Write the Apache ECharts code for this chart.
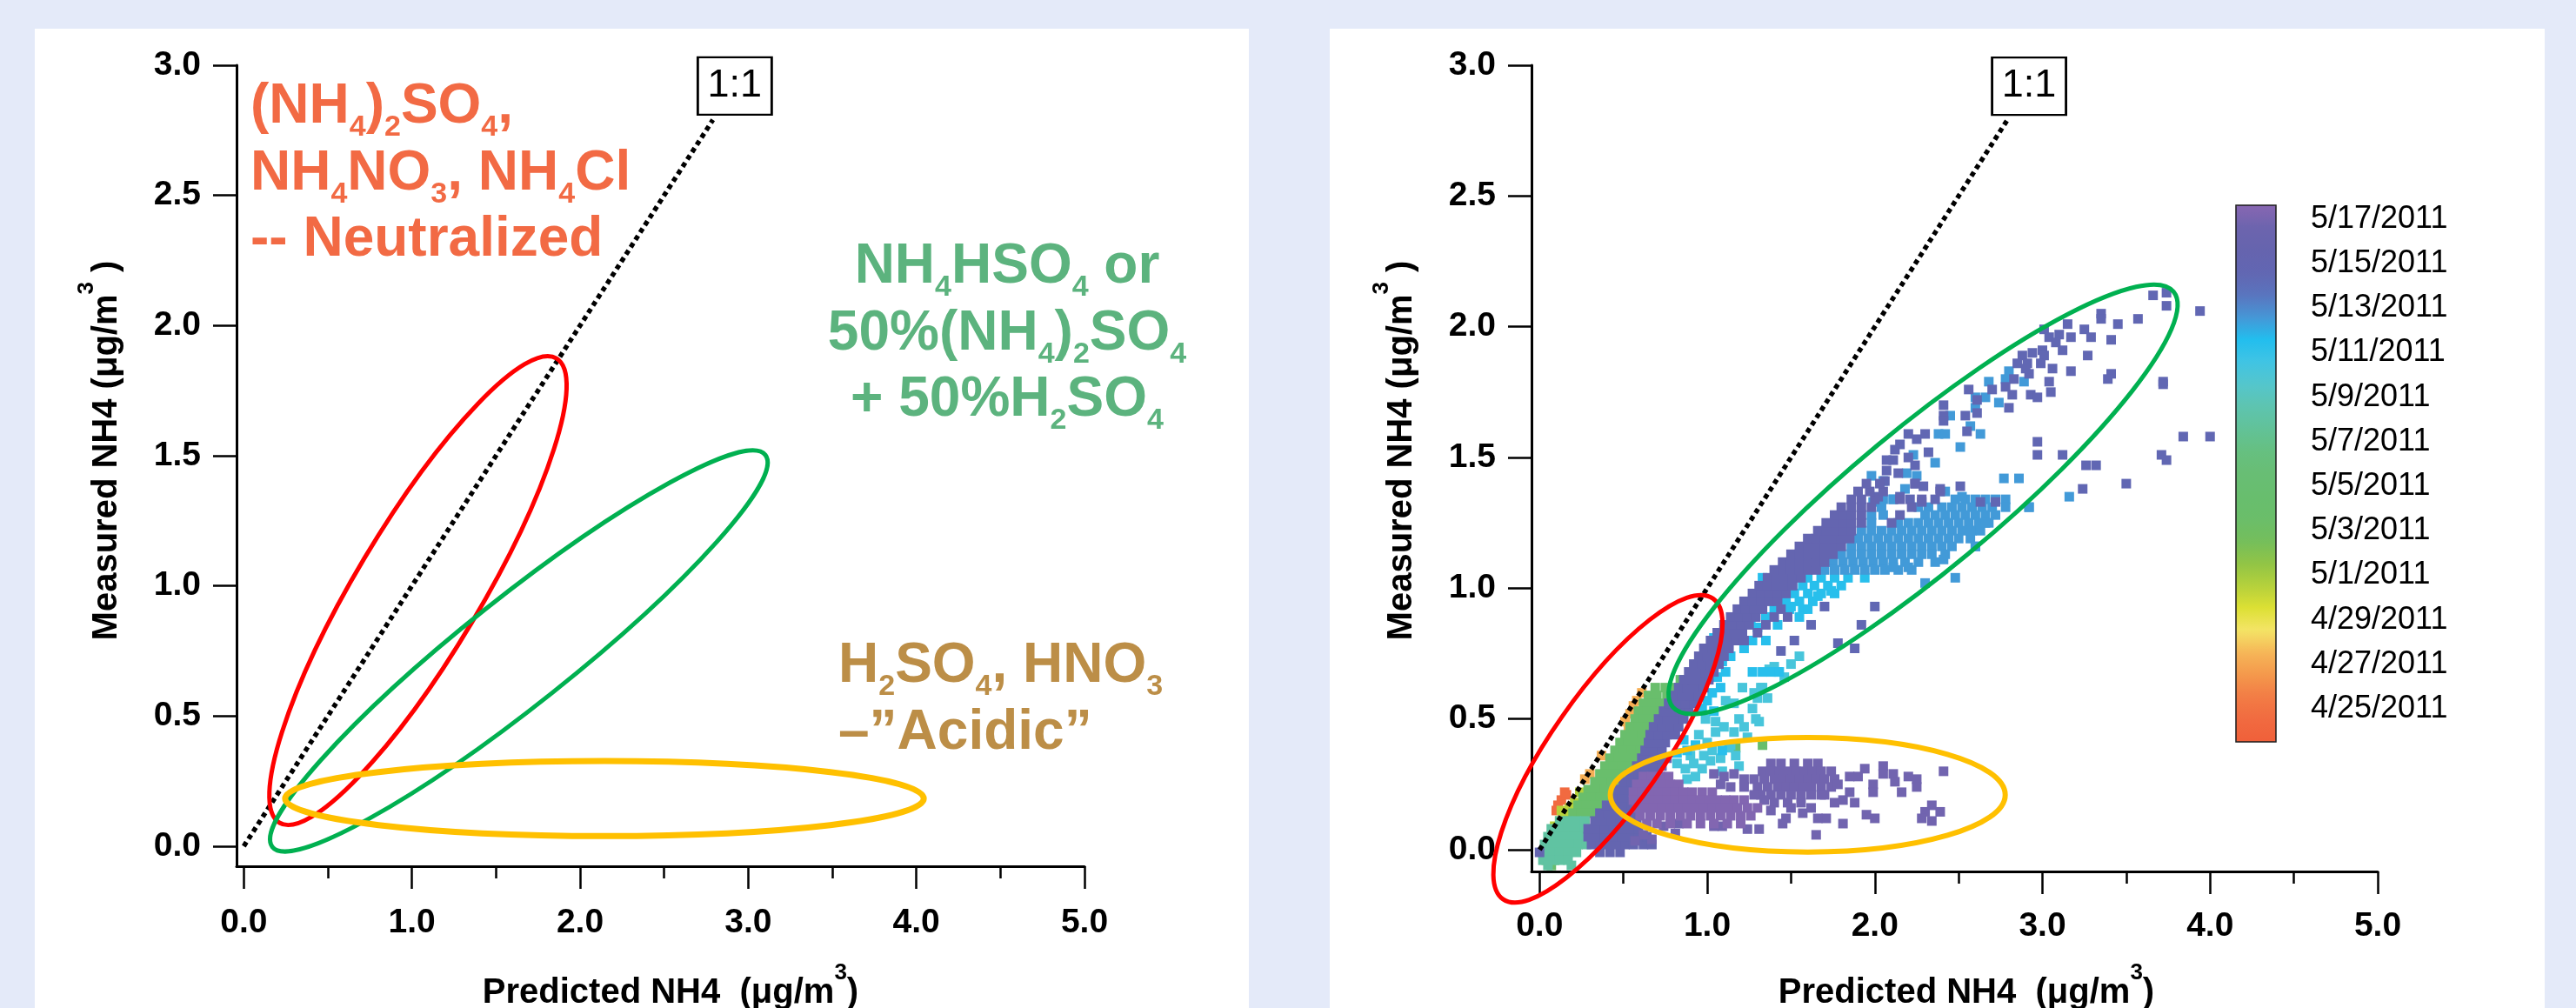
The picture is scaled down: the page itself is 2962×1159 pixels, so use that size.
<!DOCTYPE html>
<html>
<head>
<meta charset="utf-8">
<script src="https://cdn.jsdelivr.net/npm/echarts@6/dist/echarts.min.js"></script>
<style>
html,body{margin:0;padding:0;background:#E4EAF9;}
#c{width:2962px;height:1159px;}
</style>
</head>
<body>
<div id="c"></div>
<script>
const FONT = '"Liberation Sans", Arial, Helvetica, sans-serif';

// ---------- axis ticks / labels ----------
const yTicks = [0, 0.5, 1.0, 1.5, 2.0, 2.5, 3.0];
const xMajorTicks = [0, 1, 2, 3, 4, 5];
const xMinorTicks = [0.5, 1.5, 2.5, 3.5, 4.5];
// colour scale: days after 4/23/2011
const dateTickDays = [2, 4, 6, 8, 10, 12, 14, 16, 18, 20, 22, 24];
const dateTickLabels = ['4/25/2011','4/27/2011','4/29/2011','5/1/2011','5/3/2011','5/5/2011',
  '5/7/2011','5/9/2011','5/11/2011','5/13/2011','5/15/2011','5/17/2011'];
const colorbarRange = [0.52, 24.62];
const colorbarColors = ['#F0603A','#F16A40','#F27C45','#F4984C','#F6B658','#F4E466','#DCE034',
  '#B4D03C','#90C446','#74BE5C','#6ABE6A','#68BE6E','#68BE74','#66C080','#62C298','#5EC4B0',
  '#54C6CC','#40C4E4','#22BEEE','#4696D6','#5A74BE','#6266B2','#6664AE','#6C64AE','#8866B2'];

// ---------- 1:1 line ----------
const oneToOne = [[0, 0], [2.79, 2.79]];
const oneToOneBox = [2.92, 2.92];

// ---------- ellipses: [centerX, centerY, majorEndX, majorEndY, minorEndX, minorEndY] ----------
const leftEllipses = [
  [1.036, 0.982, 1.860, 1.874, 1.355, 0.858],   // neutralized (red)
  [1.636, 0.750, 3.102, 1.503, 1.834, 0.589],   // NH4HSO4 (green)
  [2.145, 0.183, 4.044, 0.183, 2.145, 0.327]    // acidic (yellow)
];
const rightEllipses = [
  [0.408, 0.386, 1.034, 0.961, 0.682, 0.263],
  [2.288, 1.340, 3.782, 2.134, 2.558, 1.132],
  [1.600, 0.210, 2.778, 0.210, 1.600, 0.429]
];
const ellipseColors = ['#FF0000', '#00B050', '#FFC000'];

// ---------- measurements (right panel), grouped by collection date ----------
const groupDays = {redOrange:1.5, orange:4.3, yellowGreen:7.5, green:11, teal:15, lightCyan:17.2,
  cyan:18.4, blue:19.5, purpleUpper:21.5, purple:22, acidicLobe:23.8, acidicCore:24.4};

const redOrangePts = [[0.13,0.19],[0.16,0.21],[0.11,0.17],[0.10,0.15],[0.15,0.22]];
const orangePts = [[0.56,0.55],[0.54,0.52],[0.51,0.49],[0.58,0.57],[0.53,0.47],[0.37,0.36],[0.27,0.27],[0.30,0.29],[0.61,0.60]];
const yellowGreenPts = [[0.12,0.11],[0.15,0.13],[0.18,0.16],[0.21,0.18],[0.09,0.09],[0.24,0.22],[0.14,0.09],[0.19,0.12],[0.13,0.15]];
// rows: [y, x1, x2, ...]
const greenRows = [
  [0.62,0.69,0.75,0.81],[0.59,0.65,0.70,0.76],[0.56,0.62,0.67,0.72,0.77],[0.53,0.59,0.64,0.69,0.74],
  [0.50,0.57,0.62,0.67,0.72],[0.47,0.54,0.59,0.64,0.69],[0.44,0.51,0.56,0.61,0.66],[0.41,0.48,0.53,0.58,0.63],
  [0.38,0.45,0.50,0.55,0.60],[0.35,0.42,0.47,0.52,0.57],[0.32,0.39,0.44,0.49,0.54],[0.29,0.36,0.41,0.46,0.51],
  [0.26,0.33,0.38,0.43,0.48],[0.23,0.29,0.34,0.39,0.44],[0.20,0.26,0.31,0.36,0.41],[0.17,0.23,0.28,0.33,0.38],
  [0.14,0.20,0.25,0.30,0.35],[0.11,0.17,0.22,0.27],[0.08,0.13,0.18],[0.05,0.09],[0.02,0.06],[-0.01,0.04],
  [-0.04,0.04,0.09],[-0.06,0.07]
];
const greenPts = [[1.33,0.40],[1.17,0.39],[0.84,0.65]];
const tealRows = [
  [0.11,0.12,0.17,0.22,0.27],[0.08,0.07,0.12,0.17,0.22,0.27,0.31],[0.05,0.05,0.10,0.15,0.20,0.25,0.30],
  [0.02,0.03,0.08,0.13,0.18,0.23,0.28],[-0.01,0.02,0.07,0.12,0.17,0.22],[-0.04,0.02,0.07,0.12,0.17],[-0.06,0.05,0.19]
];
const lightCyanPts = [[1.27,0.54],[1.30,0.58],[1.33,0.62],[1.28,0.60],[1.31,0.49],[1.22,0.47],[1.19,0.50],[1.16,0.45],
  [1.05,0.45],[1.05,0.49],[1.10,0.47],[1.11,0.57],[1.16,0.56],[0.99,0.50],[1.50,0.71],[1.40,0.70],[1.37,0.69],[1.42,0.68],
  [0.82,0.33],[0.87,0.31],[0.92,0.33],[0.97,0.31],[1.02,0.34],[0.88,0.27],[0.93,0.28],[0.98,0.36],[1.03,0.38],[0.90,0.36],
  [0.95,0.44],[1.08,0.35],[1.13,0.39],[1.00,0.41],[1.14,0.40],[1.09,0.30],[1.19,0.32],[1.17,0.36],[1.32,0.62],[1.29,0.50],
  [1.24,0.43],[1.36,0.58],[1.46,0.66],[1.55,0.74],[1.21,0.62]];
const cyanPts = [[1.03,0.60],[1.08,0.62],[1.06,0.66],[1.11,0.68],[1.09,0.72],[1.14,0.74],[1.12,0.78],[1.17,0.80],[1.00,0.57],
  [0.97,0.54],[1.04,0.53],[1.27,0.80],[1.27,0.68],[1.33,0.68],[1.38,0.68],[1.43,0.68],[1.04,0.81],[1.33,1.04],[0.82,0.37],
  [0.88,0.38],[0.93,0.40],[1.09,0.38],[0.86,0.42],[1.50,0.93],[1.26,0.88],[1.30,0.85],[1.20,0.84],[1.22,0.77],[1.35,0.80],
  [1.42,0.86],[1.60,0.92],[1.66,0.97],[1.74,0.99]];
const cyanRows = [
  [1.04,1.60,1.68,1.76,1.84,1.94],[1.01,1.57,1.64,1.72,1.80],[0.98,1.52,1.60,1.68,1.76],
  [0.95,1.47,1.55,1.63],[0.92,1.40,1.49,1.57],[0.89,1.35,1.55]
];
const blueRows = [
  [1.34,2.05,2.11,2.48,2.54,2.60,2.66,2.72,2.78],
  [1.31,2.04,2.26,2.32,2.40,2.46,2.52,2.58,2.64,2.70,2.92],
  [1.28,1.98,2.05,2.30,2.36,2.42,2.48,2.54,2.60,2.66,2.72],
  [1.25,1.98,2.14,2.20,2.26,2.32,2.38,2.44,2.50,2.56,2.62,2.68],
  [1.22,1.92,1.98,2.04,2.10,2.16,2.22,2.28,2.34,2.40,2.46,2.52,2.58,2.63],
  [1.19,1.90,1.96,2.02,2.08,2.14,2.20,2.26,2.32,2.38,2.44,2.50,2.57],
  [1.16,1.86,1.92,1.98,2.04,2.10,2.16,2.22,2.28,2.34,2.40,2.46,2.60],
  [1.13,1.80,1.86,1.92,1.98,2.04,2.10,2.16,2.22,2.28,2.34,2.42],
  [1.10,1.75,1.81,1.87,1.93,1.99,2.05,2.11,2.18,2.26,2.36],
  [1.07,1.70,1.76,1.82,1.88,1.94,2.00,2.06,2.14,2.22]
];
const bluePts = [[2.80,1.83],[2.68,1.79],[2.78,1.80],[2.89,1.79],[2.74,1.71],[2.60,1.73],[2.66,1.73],[2.60,1.69],[2.45,1.66],
  [2.57,1.62],[2.63,1.59],[2.38,1.59],[2.42,1.59],[2.51,1.54],[2.36,1.48],[2.23,1.51],[2.25,1.43],[2.19,1.44],[1.98,1.43],
  [2.05,1.41],[2.77,1.42],[2.86,1.42],[2.18,1.38],[2.52,1.35],[2.42,1.37],[2.78,1.31],[2.92,1.31],[1.99,1.33],[2.11,1.34],
  [3.16,1.35],[2.41,1.11],[2.20,1.08],[2.11,1.08],[2.60,1.16],[2.57,1.22],[2.66,1.25],[2.48,1.04],[2.30,1.02]];
const purpleUpperPts = [[3.66,2.12],[3.74,2.13],[3.74,2.08],[3.94,2.06],[3.35,2.05],[3.35,2.03],[3.45,2.01],[3.57,2.03],
  [3.15,2.01],[3.01,1.99],[3.25,1.99],[3.29,1.96],[3.41,1.95],[3.04,1.96],[3.10,1.97],[3.17,1.96],[3.08,1.94],[3.12,1.91],
  [3.00,1.91],[2.94,1.90],[2.88,1.89],[3.01,1.89],[3.27,1.89],[2.85,1.86],[2.91,1.86],[2.99,1.86],[3.06,1.84],[3.17,1.83],
  [2.92,1.82],[2.90,1.84],[2.83,1.80],[3.04,1.79],[3.41,1.82],[3.39,1.80],[3.72,1.79],[2.78,1.77],[2.82,1.74],[2.93,1.74],
  [2.97,1.73],[3.05,1.75],[2.70,1.76],[2.56,1.76],[2.61,1.72],[2.80,1.69],[2.41,1.70],[2.61,1.67],[2.54,1.66],[2.41,1.66],
  [2.41,1.64],[2.55,1.60],[2.20,1.59],[2.30,1.59],[2.25,1.57],[2.15,1.55],[2.32,1.52],[2.12,1.53],[2.20,1.50],[2.07,1.49],
  [2.11,1.49],[2.24,1.47],[2.07,1.45],[2.14,1.44],[2.06,1.41],[2.24,1.40],[2.29,1.39],[2.39,1.38],[2.51,1.39],[2.02,1.35],
  [2.15,1.35],[2.21,1.34],[2.36,1.34],[2.28,1.33],[2.63,1.33],[2.72,1.33],[2.97,1.56],[2.97,1.51],[3.12,1.51],[3.26,1.47],
  [3.32,1.47],[3.71,1.51],[3.84,1.58],[4.00,1.58],[3.50,1.40],[3.24,1.38],[3.74,1.49],[3.72,1.78],[2.00,0.93],[1.92,0.86],
  [1.88,0.77],[1.78,0.79],[1.62,0.86],[1.70,0.93],[1.44,0.76],[1.52,0.80]];
const purpleRows = [
  [-0.01,0.00,0.36,0.42,0.48],[0.02,0.31,0.36,0.41,0.46,0.51,0.56,0.62,0.67],[0.05,0.29,0.34,0.39,0.44,0.49,0.54,0.59,0.64],
  [0.08,0.29,0.34,0.39,0.44,0.49,0.54,0.59],[0.11,0.33,0.38,0.43,0.48,0.53,0.58],[0.14,0.36,0.41,0.46,0.51,0.56],
  [0.17,0.40,0.45,0.50,0.55],[0.20,0.44,0.49,0.54,0.59],[0.23,0.47,0.52,0.57],[0.26,0.50,0.55,0.60,0.65],
  [0.29,0.54,0.59,0.64,0.69],[0.32,0.58,0.63,0.68,0.73],[0.35,0.61,0.66,0.71,0.76],[0.38,0.63,0.68,0.73],
  [0.41,0.65,0.70,0.75],[0.44,0.66,0.71,0.76,0.81],[0.47,0.68,0.73,0.78,0.83],[0.50,0.71,0.76,0.81,0.86],
  [0.53,0.74,0.79,0.84,0.89],[0.56,0.77,0.82,0.87,0.92],[0.59,0.80,0.85,0.90,0.95],[0.62,0.83,0.88,0.93,0.98],
  [0.65,0.86,0.91,0.96,1.01],[0.68,0.89,0.94,0.99,1.04],[0.71,0.92,0.97,1.02,1.07],[0.74,0.95,1.00,1.05,1.10],
  [0.77,0.98,1.03,1.08,1.13],[0.80,1.02,1.07,1.12,1.17,1.22],[0.83,1.06,1.11,1.16,1.21,1.30],
  [0.86,1.10,1.15,1.20,1.25,1.35],[0.89,1.14,1.19,1.24,1.29,1.40,1.48],[0.92,1.18,1.23,1.28,1.33,1.44],
  [0.95,1.22,1.27,1.32,1.37,1.42],[0.98,1.27,1.32,1.37,1.42,1.47],[1.01,1.31,1.36,1.41,1.46,1.51],
  [1.04,1.36,1.41,1.46,1.51,1.56],[1.07,1.40,1.45,1.50,1.55,1.60,1.65],[1.10,1.45,1.50,1.55,1.60,1.65,1.70],
  [1.13,1.50,1.55,1.60,1.65,1.70,1.75],[1.16,1.55,1.60,1.65,1.70,1.75,1.80],[1.19,1.60,1.65,1.70,1.75,1.80,1.85],
  [1.22,1.66,1.71,1.76,1.81,1.86],[1.25,1.71,1.76,1.81,1.86,1.92,2.10],[1.28,1.76,1.81,1.86,1.92,2.15],
  [1.31,1.80,1.86,1.92,1.98,2.22],[1.34,1.86,1.92,2.00,2.15,2.28],[1.37,1.90,1.97,2.05,2.39],[1.40,1.95,2.03,2.24]
];
const acidicLobeRows = [
  [0.33,1.38,1.44,1.52,1.60,1.66],[0.30,1.33,1.38,1.43,1.48,1.53,1.58,1.63,1.68,1.74],
  [0.27,1.28,1.34,1.40,1.45,1.50,1.55,1.60,1.65,1.70,1.76],[0.24,1.22,1.30,1.36,1.42,1.47,1.52,1.57,1.62,1.68,1.74],
  [0.21,1.32,1.38,1.44,1.50,1.56,1.62,1.68],[0.18,1.40,1.48,1.56]
];
const acidicSparsePts = [[1.85,0.28],[1.94,0.31],[2.05,0.32],[1.99,0.25],[2.11,0.29],[2.12,0.26],[2.20,0.28],[2.25,0.27],
  [2.25,0.24],[2.41,0.30],[1.85,0.22],[1.99,0.22],[2.34,0.17],[2.39,0.145],[2.30,0.145],[2.28,0.12],[2.34,0.11],[1.95,0.134],
  [2.00,0.12],[1.81,0.10],[1.71,0.12],[1.66,0.12],[1.65,0.057],[1.47,0.12],[1.57,0.14],[1.45,0.10],[1.31,0.079],[1.24,0.079],
  [1.09,0.09],[1.04,0.09],[0.83,0.10],[0.74,0.09],[0.67,0.04],[0.62,0.057],[0.57,0.034],[0.81,0.062],[1.81,0.19],[1.76,0.18],
  [1.90,0.28],[2.05,0.29],[1.38,0.15],[1.50,0.16],[1.04,0.29],[1.10,0.28],[1.16,0.29],[1.22,0.27],[1.08,0.25],[1.14,0.24],
  [1.28,0.21],[1.34,0.19],[1.62,0.16],[1.70,0.21],[1.78,0.25],[1.88,0.18],[2.16,0.22]];
const acidicCoreRows = [
  [0.28,0.62,0.67,0.72,0.77],[0.25,0.58,0.63,0.68,0.73,0.78,0.83],
  [0.22,0.56,0.61,0.66,0.71,0.76,0.81,0.86,0.91,0.97,1.03],
  [0.19,0.56,0.61,0.66,0.71,0.76,0.81,0.86,0.91,0.96,1.01,1.06,1.11,1.16,1.22],
  [0.16,0.58,0.63,0.68,0.73,0.78,0.83,0.88,0.93,0.98,1.03,1.08,1.13,1.18,1.24,1.30],
  [0.13,0.60,0.66,0.72,0.78,0.84,0.90,0.96,1.02,1.08,1.14,1.20,1.26],
  [0.10,0.64,0.70,0.78,0.88,0.96,1.04,1.12,1.20]
];

// ---------- build scatter table (x, y, day), drawn in date order ----------
function fromPts(pts, day) { return pts.map(p => [p[0], p[1], day]); }
function fromRows(rows, day) {
  const out = [];
  rows.forEach(r => { for (let i = 1; i < r.length; i++) out.push([r[i], r[0], day]); });
  return out;
}
const scatterData = [].concat(
  fromPts(redOrangePts, groupDays.redOrange),
  fromPts(orangePts, groupDays.orange),
  fromPts(yellowGreenPts, groupDays.yellowGreen),
  fromRows(greenRows, groupDays.green),
  fromPts(greenPts, groupDays.green),
  fromRows(tealRows, groupDays.teal),
  fromPts(lightCyanPts, groupDays.lightCyan),
  fromRows(cyanRows, groupDays.cyan),
  fromPts(cyanPts, groupDays.cyan),
  fromRows(blueRows, groupDays.blue),
  fromPts(bluePts, groupDays.blue),
  fromPts(purpleUpperPts, groupDays.purpleUpper),
  fromRows(purpleRows, groupDays.purple),
  fromRows(acidicLobeRows, groupDays.acidicLobe),
  fromPts(acidicSparsePts, groupDays.acidicLobe),
  fromRows(acidicCoreRows, groupDays.acidicCore)
);

// ---------- helpers ----------
const fmt1 = v => v.toFixed(1);
const tickStyle = {color: '#000', width: 2.5};

function xAxes(grid, min, gridH, labelMargin) {
  return [
    {gridIndex: grid, type: 'value', min: min, max: 5, position: 'bottom',
      axisLine: {onZero: false, lineStyle: {color: '#000', width: 3}},
      axisTick: {customValues: xMajorTicks, length: 26, lineStyle: tickStyle},
      axisLabel: {customValues: xMajorTicks, formatter: fmt1, margin: labelMargin, fontSize: 39,
        fontWeight: 'bold', fontFamily: FONT, color: '#000'},
      splitLine: {show: false}},
    {gridIndex: grid, type: 'value', min: min, max: 5, position: 'top', offset: -gridH,
      axisLine: {show: false, onZero: false},
      axisTick: {inside: true, customValues: xMinorTicks, length: 14, lineStyle: tickStyle},
      axisLabel: {show: false}, splitLine: {show: false}}
  ];
}
function yAxis(grid, min) {
  return {gridIndex: grid, type: 'value', min: min, max: 3,
    axisLine: {onZero: false, lineStyle: {color: '#000', width: 3}},
    axisTick: {customValues: yTicks, length: 27, lineStyle: tickStyle},
    axisLabel: {customValues: yTicks, formatter: fmt1, margin: 41, fontSize: 39, fontWeight: 'bold',
      fontFamily: FONT, color: '#000'},
    splitLine: {show: false}};
}
function ellipseSeries(list, xi, yi, widths) {
  return {
    type: 'custom', xAxisIndex: xi, yAxisIndex: yi, silent: true, clip: false, z: 6,
    encode: {x: [0, 2, 4], y: [1, 3, 5]},
    data: list,
    renderItem: function (params, api) {
      const c = api.coord([api.value(0), api.value(1)]);
      const m = api.coord([api.value(2), api.value(3)]);
      const n = api.coord([api.value(4), api.value(5)]);
      const dx = m[0] - c[0], dy = m[1] - c[1];
      const rx = Math.sqrt(dx * dx + dy * dy);
      const ux = dx / rx, uy = dy / rx;
      const ry = Math.abs((n[0] - c[0]) * (-uy) + (n[1] - c[1]) * ux);
      return {type: 'ellipse', x: c[0], y: c[1], rotation: -Math.atan2(dy, dx),
        shape: {cx: 0, cy: 0, rx: rx, ry: ry},
        style: {fill: 'none', stroke: ellipseColors[params.dataIndex], lineWidth: widths[params.dataIndex]}};
    }
  };
}
function oneToOneSeries(xi, yi) {
  return {type: 'line', xAxisIndex: xi, yAxisIndex: yi, data: oneToOne, symbol: 'none', silent: true, z: 5,
    lineStyle: {color: '#000', width: 5.5, type: [5.5, 4.5], cap: 'butt'},
    markPoint: {symbol: 'rect', symbolSize: [85, 66], silent: true,
      data: [{coord: oneToOneBox}],
      itemStyle: {color: '#fff', borderColor: '#000', borderWidth: 2.5},
      label: {show: true, position: 'inside', formatter: '1:1', color: '#000', fontSize: 45, fontFamily: FONT}}};
}
function annoRich(color) {
  return {
    m: {fill: color, fontSize: 64, fontWeight: 'bold', fontFamily: FONT, lineHeight: 77},
    s: {fill: color, fontSize: 34, fontWeight: 'bold', fontFamily: FONT, lineHeight: 77, padding: [48, 0, 0, 0]}
  };
}
function annoLine(text, x, y, color, align) {
  return {type: 'text', x: x, y: y, z: 20,
    style: {text: text, rich: annoRich(color), align: align, verticalAlign: 'middle', fill: color}};
}
const titleRich = {
  m: {fill: '#000', fontSize: 40, fontWeight: 'bold', fontFamily: FONT, lineHeight: 48},
  p: {fill: '#000', fontSize: 26, fontWeight: 'bold', fontFamily: FONT, lineHeight: 48, padding: [0, 0, 46, 0]}
};
function titleText(text, x, y, rot) {
  return {type: 'text', x: x, y: y, rotation: rot, z: 20,
    style: {text: text, rich: titleRich, align: 'center', verticalAlign: 'middle', fill: '#000'}};
}

const ORANGE = '#F26A44', GREEN = '#5CB37E', BROWN = '#BC8E47';
const yTitle = '{m|Measured NH4 (μg/m}{p|3}{m| )}';
const xTitle = '{m|Predicted NH4  (μg/m}{p|3}{m|)}';

const chart = echarts.init(document.getElementById('c'), null, {renderer: 'canvas'});
chart.setOption({
  animation: false,
  backgroundColor: '#E4EAF9',
  grid: [
    {left: 272, top: 75, width: 975, height: 921, outerBoundsMode: 'none'},
    {left: 1761, top: 75, width: 973, height: 927, outerBoundsMode: 'none'},
    {left: 2571, top: 236, width: 46, height: 617, show: true, z: 10, borderColor: '#1a1a1a', borderWidth: 1.5,
      backgroundColor: 'transparent', outerBoundsMode: 'none'}
  ],
  xAxis: [].concat(
    xAxes(0, -0.043, 921, 46),
    xAxes(1, -0.048, 927, 44),
    [{gridIndex: 2, type: 'value', min: 0, max: 1, show: false}]
  ),
  yAxis: [
    yAxis(0, -0.077),
    yAxis(1, -0.083),
    {gridIndex: 2, type: 'value', min: colorbarRange[0], max: colorbarRange[1], position: 'right',
      axisLine: {show: false},
      axisTick: {customValues: dateTickDays, length: 26, lineStyle: tickStyle},
      axisLabel: {customValues: dateTickDays, margin: 40, fontSize: 36, fontFamily: FONT, color: '#000',
        formatter: v => dateTickLabels[dateTickDays.indexOf(v)]},
      splitLine: {show: false}}
  ],
  visualMap: [{
    type: 'continuous', seriesIndex: 0, dimension: 2, min: colorbarRange[0], max: colorbarRange[1],
    inRange: {color: colorbarColors}, orient: 'vertical', left: 2571, top: 236, itemWidth: 46, itemHeight: 617,
    calculable: false, padding: 0, hoverLink: false, z: 4
  }],
  series: [
    {type: 'scatter', xAxisIndex: 2, yAxisIndex: 1, data: scatterData, symbol: 'rect', symbolSize: 11,
      silent: true, z: 2, itemStyle: {opacity: 1}},
    oneToOneSeries(0, 0),
    oneToOneSeries(2, 1),
    ellipseSeries(leftEllipses, 0, 0, [5, 5, 7]),
    ellipseSeries(rightEllipses, 2, 1, [5, 5, 6])
  ],
  graphic: [
    {type: 'rect', z: -10, shape: {x: 40, y: 33, width: 1396, height: 1126}, style: {fill: '#fff'}},
    {type: 'rect', z: -10, shape: {x: 1529, y: 33, width: 1397, height: 1126}, style: {fill: '#fff'}},
    annoLine('{m|(NH}{s|4}{m|)}{s|2}{m|SO}{s|4}{m|,}', 288, 123, ORANGE, 'left'),
    annoLine('{m|NH}{s|4}{m|NO}{s|3}{m|, NH}{s|4}{m|Cl}', 288, 200, ORANGE, 'left'),
    annoLine('{m|-- Neutralized}', 288, 276, ORANGE, 'left'),
    annoLine('{m|NH}{s|4}{m|HSO}{s|4}{m| or}', 1158, 307, GREEN, 'center'),
    annoLine('{m|50%(NH}{s|4}{m|)}{s|2}{m|SO}{s|4}', 1158, 384, GREEN, 'center'),
    annoLine('{m|+ 50%H}{s|2}{m|SO}{s|4}', 1158, 460, GREEN, 'center'),
    annoLine('{m|H}{s|2}{m|SO}{s|4}{m|, HNO}{s|3}', 964, 766, BROWN, 'left'),
    annoLine('{m|–”Acidic”}', 964, 843, BROWN, 'left'),
    titleText(yTitle, 123, 518, Math.PI / 2),
    titleText(yTitle, 1612, 518, Math.PI / 2),
    titleText(xTitle, 771, 1142, 0),
    titleText(xTitle, 2261, 1142, 0)
  ]
});
</script>
</body>
</html>
